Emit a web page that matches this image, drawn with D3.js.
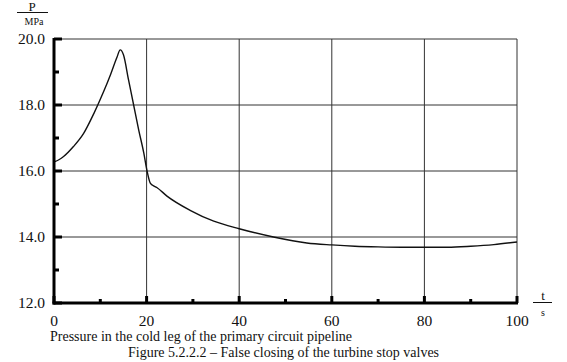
<!DOCTYPE html>
<html><head><meta charset="utf-8">
<script src="https://cdn.jsdelivr.net/npm/d3@7"></script>
<style>body{margin:0;background:#fff}svg{display:block}svg text{font-family:"Times New Roman","Liberation Serif",Tinos,"DejaVu Serif",serif}</style>
</head><body><svg id="c" width="567" height="362"></svg>
<script>
const timeS = [0,0.3,2.0,4.2,6.4,8.6,10.7,12.2,13.6,14.3,15.0,16.1,17.2,18.3,19.4,20.1,20.8,21.3,22.2,24.4,29.4,34.5,40,47.4,54.6,60,65,70,75,80,85,90,95,100];
const pressure = [16.28,16.29,16.43,16.74,17.14,17.74,18.40,18.92,19.45,19.67,19.52,18.76,18.0,17.24,16.54,16.0,15.63,15.57,15.50,15.24,14.81,14.48,14.25,14.0,13.82,13.76,13.72,13.70,13.69,13.69,13.69,13.72,13.77,13.85];
const xTicks = [0,20,40,60,80,100];
const xMinor = [10,30,50,70,90];
const yTicks = [12,14,16,18,20];
const yMinor = [13,15,17,19];
const yLabels = ["12.0","14.0","16.0","18.0","20.0"];

const svg = d3.select("#c");
const x = d3.scaleLinear().domain([0,100]).range([54,517]);
const y = d3.scaleLinear().domain([12,20]).range([303,39]);

// grid
svg.append("g").selectAll("line").data(xTicks.slice(1)).join("line")
  .attr("x1",d=>x(d)).attr("x2",d=>x(d)).attr("y1",y(20)).attr("y2",y(12))
  .attr("stroke","#333").attr("stroke-width",1);
svg.append("g").selectAll("line").data(yTicks.slice(1)).join("line")
  .attr("x1",x(0)).attr("x2",x(100)).attr("y1",d=>y(d)).attr("y2",d=>y(d))
  .attr("stroke","#333").attr("stroke-width",1);

// curve
svg.append("path").datum(timeS.map((t,i)=>[t,pressure[i]]))
  .attr("d",d3.line().x(d=>x(d[0])).y(d=>y(d[1])).curve(d3.curveMonotoneX))
  .attr("fill","none").attr("stroke","#111").attr("stroke-width",1.4);

// axes
svg.append("line").attr("x1",x(0)).attr("x2",x(0)).attr("y1",y(20)-1).attr("y2",y(12)+1.5).attr("stroke","#000").attr("stroke-width",3);
svg.append("line").attr("x1",x(0)-1.5).attr("x2",x(100)+1).attr("y1",y(12)).attr("y2",y(12)).attr("stroke","#000").attr("stroke-width",3);

// ticks
svg.append("g").selectAll("line").data(yTicks).join("line")
  .attr("x1",x(0)).attr("x2",x(0)+8).attr("y1",d=>y(d)).attr("y2",d=>y(d)).attr("stroke","#000").attr("stroke-width",3);
svg.append("g").selectAll("line").data(yMinor).join("line")
  .attr("x1",x(0)).attr("x2",x(0)+5).attr("y1",d=>y(d)).attr("y2",d=>y(d)).attr("stroke","#000").attr("stroke-width",3);
svg.append("g").selectAll("line").data(xTicks).join("line")
  .attr("x1",d=>x(d)).attr("x2",d=>x(d)).attr("y1",y(12)).attr("y2",y(12)-7).attr("stroke","#000").attr("stroke-width",3);
svg.append("g").selectAll("line").data(xMinor).join("line")
  .attr("x1",d=>x(d)).attr("x2",d=>x(d)).attr("y1",y(12)).attr("y2",y(12)-4).attr("stroke","#000").attr("stroke-width",3);

// tick labels
svg.append("g").selectAll("text").data(yTicks).join("text")
  .attr("x",45).attr("y",d=>y(d)+5).attr("text-anchor","end").attr("font-size",15.5).attr("fill","#111")
  .text((d,i)=>yLabels[i]);
svg.append("g").selectAll("text").data(xTicks).join("text")
  .attr("x",d=>x(d)).attr("y",326).attr("text-anchor","middle").attr("font-size",15.5).attr("fill","#111")
  .text(d=>d);

// axis units
svg.append("text").attr("x",32).attr("y",11).attr("text-anchor","middle").attr("font-size",13).attr("fill","#111").text("P");
svg.append("line").attr("x1",17).attr("x2",48).attr("y1",12.5).attr("y2",12.5).attr("stroke","#111").attr("stroke-width",1);
svg.append("text").attr("x",34).attr("y",25).attr("text-anchor","middle").attr("font-size",10).attr("fill","#111").text("MPa");
svg.append("text").attr("x",543).attr("y",300).attr("text-anchor","middle").attr("font-size",13).attr("fill","#111").text("t");
svg.append("line").attr("x1",533).attr("x2",552).attr("y1",302.5).attr("y2",302.5).attr("stroke","#111").attr("stroke-width",1);
svg.append("text").attr("x",543).attr("y",316).attr("text-anchor","middle").attr("font-size",10).attr("fill","#111").text("s");

// captions
svg.append("text").attr("x",50).attr("y",341).attr("font-size",14).attr("fill","#111").text("Pressure in the cold leg of the primary circuit pipeline");
svg.append("text").attr("x",128).attr("y",357).attr("font-size",14).attr("fill","#111").text("Figure 5.2.2.2 – False closing of the turbine stop valves");
</script></body></html>
